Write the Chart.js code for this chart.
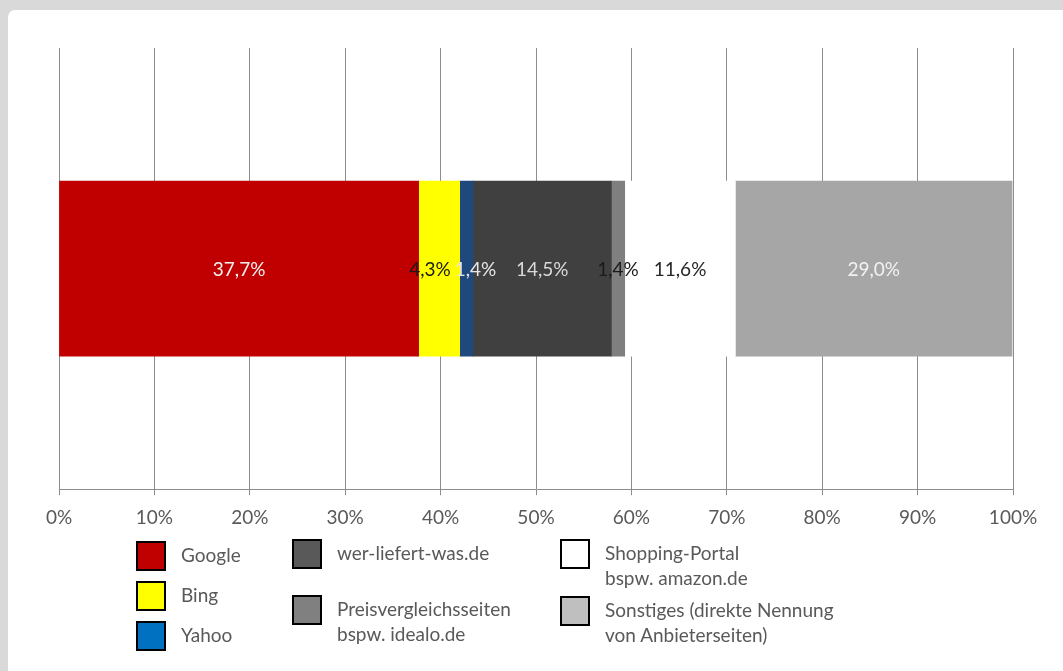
<!DOCTYPE html>
<html lang="de">
<head>
<meta charset="utf-8">
<title>Suchmaschinen-Anteile</title>
<script src="https://cdn.jsdelivr.net/npm/chart.js@4.4.1/dist/chart.umd.min.js"></script>
<style>
  html, body { margin: 0; padding: 0; width: 1063px; height: 671px; overflow: hidden; background: #D9D9D9; }
  #card { position: absolute; left: 8px; top: 10px; width: 1100px; height: 700px; background: #FFFFFF; border-radius: 7px; }
  #wrap { position: absolute; left: 0; top: 0; width: 1063px; height: 540px; }
  #legend { position: absolute; left: 0; top: 0; width: 1063px; height: 671px; font-family: Lato, "Open Sans", sans-serif; font-size: 19px; color: #595959; }
  .sw { position: absolute; width: 30px; height: 30px; box-sizing: border-box; border: 2px solid #000; }
  .lt { position: absolute; line-height: 25px; white-space: pre-line; }
</style>
</head>
<body>
<div id="card"></div>
<div id="wrap"><canvas id="c" width="1063" height="540"></canvas></div>
<div id="legend"></div>
<script>
// ---- data ----
const categories = ["Anteil"];
const seriesNames = [
  "Google",
  "Bing",
  "Yahoo",
  "wer-liefert-was.de",
  "Preisvergleichsseiten\nbspw. idealo.de",
  "Shopping-Portal\nbspw. amazon.de",
  "Sonstiges (direkte Nennung\nvon Anbieterseiten)"
];
const seriesValues = [37.7, 4.3, 1.4, 14.5, 1.4, 11.6, 29.0];
const barColors    = ["#C00000", "#FFFF00", "#1F497D", "#404040", "#7F7F7F", "#FFFFFF", "#A6A6A6"];
const legendColors = ["#C00000", "#FFFF00", "#0070C0", "#595959", "#808080", "#FFFFFF", "#BFBFBF"];
const labelColors  = ["#F2F2F2", "#1A1A1A", "#E6E6E6", "#D9D9D9", "#1A1A1A", "#262626", "#F2F2F2"];
const tickValues   = [0, 10, 20, 30, 40, 50, 60, 70, 80, 90, 100];
const tickLabels   = tickValues.map(v => v + "%");

// ---- legend layout (positions only) ----
const legendSlots = [
  {x: 136, y: 541}, {x: 136, y: 581}, {x: 136, y: 621},
  {x: 292, y: 539}, {x: 292, y: 595},
  {x: 560, y: 539}, {x: 560, y: 596}
];
const legendEl = document.getElementById("legend");
seriesNames.forEach((name, i) => {
  const s = legendSlots[i];
  const sw = document.createElement("div");
  sw.className = "sw";
  sw.style.left = s.x + "px"; sw.style.top = s.y + "px";
  sw.style.background = legendColors[i];
  legendEl.appendChild(sw);
  const t = document.createElement("div");
  t.className = "lt";
  t.style.left = (s.x + 45) + "px"; t.style.top = (s.y + 1) + "px";
  t.textContent = name;
  legendEl.appendChild(t);
});

// ---- data labels plugin ----
const fmt = v => v.toFixed(1).replace(".", ",") + "%";
const barLabels = {
  id: "barLabels",
  afterDatasetsDraw(chart) {
    const ctx = chart.ctx;
    ctx.save();
    ctx.font = "19px Lato, 'Open Sans', sans-serif";
    ctx.textAlign = "center";
    ctx.textBaseline = "middle";
    const items = [];
    chart.data.datasets.forEach((ds, i) => {
      const meta = chart.getDatasetMeta(i);
      meta.data.forEach((el, j) => {
        const c = el.getCenterPoint();
        const txt = fmt(ds.data[j]);
        items.push({x: c.x, y: c.y, w: ctx.measureText(txt).width, txt, color: labelColors[i]});
      });
    });
    const gap = 4;
    for (let pass = 0; pass < 10; pass++) {
      for (let k = 1; k < items.length; k++) {
        const a = items[k - 1], b = items[k];
        const ov = (a.x + a.w / 2 + gap) - (b.x - b.w / 2);
        if (ov > 0) { a.x -= ov / 2; b.x += ov / 2; }
      }
    }
    items.forEach(it => { ctx.fillStyle = it.color; ctx.fillText(it.txt, it.x, it.y + 1); });
    ctx.restore();
  }
};

new Chart(document.getElementById("c"), {
  type: "bar",
  data: {
    labels: categories,
    datasets: seriesNames.map((n, i) => ({
      label: n,
      data: [seriesValues[i]],
      backgroundColor: barColors[i],
      borderWidth: 0,
      barThickness: 175
    }))
  },
  options: {
    indexAxis: "y",
    responsive: false,
    animation: false,
    layout: { padding: { left: 59, right: 50, top: 48, bottom: 0 } },
    plugins: { legend: { display: false }, tooltip: { enabled: false } },
    scales: {
      y: { display: false, stacked: true },
      x: {
        stacked: true,
        min: 0, max: 100,
        afterBuildTicks: (scale) => { scale.ticks = tickValues.map(v => ({value: v})); },
        ticks: {
          callback: (v, idx) => tickLabels[idx],
          color: "#595959",
          font: { family: "Lato, 'Open Sans', sans-serif", size: 19 },
          padding: 11,
          maxRotation: 0
        },
        grid: { color: "#8C8C8C", lineWidth: 1, tickLength: 6, drawTicks: true },
        border: { display: true, color: "#8C8C8C", width: 1 }
      }
    }
  },
  plugins: [barLabels]
});
</script>
</body>
</html>
